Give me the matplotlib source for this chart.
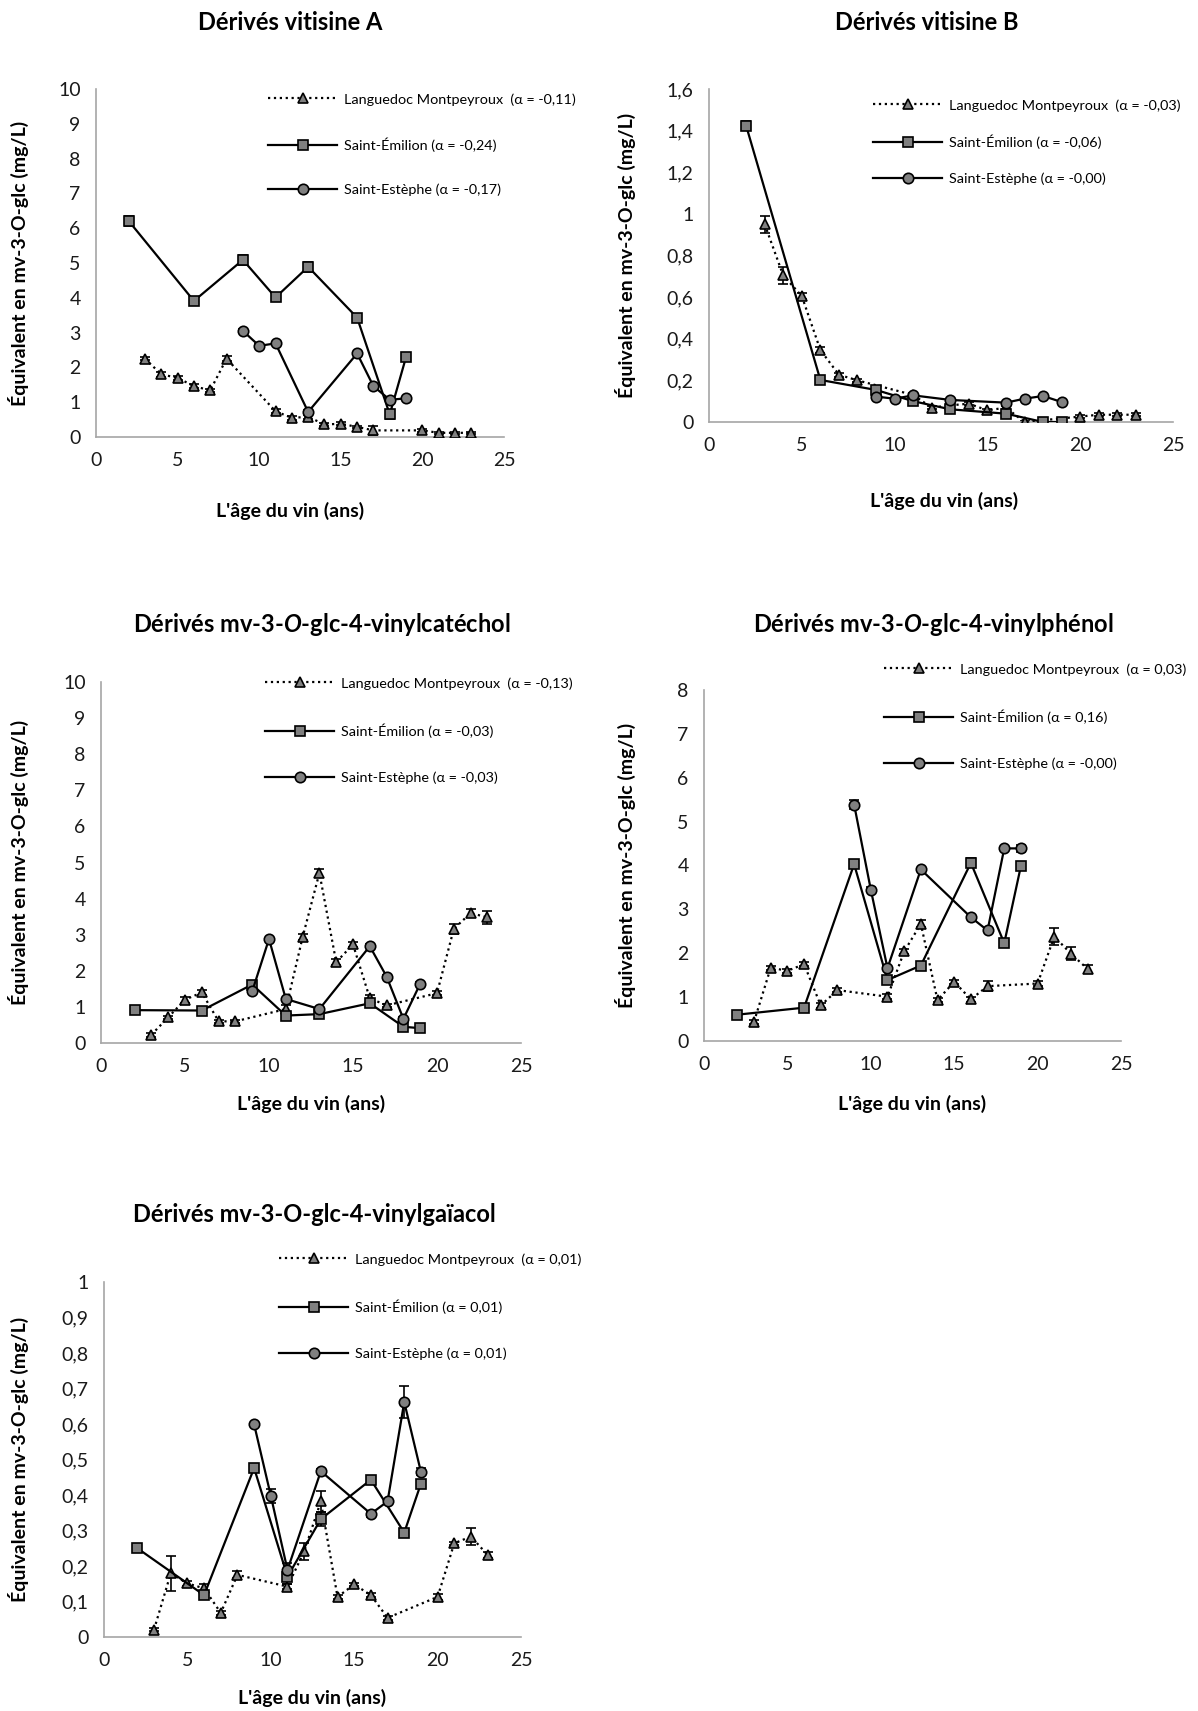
import numpy as np
import matplotlib
matplotlib.use("Agg")
import matplotlib.pyplot as plt

plt.rcParams['font.family'] = ['Lato', 'DejaVu Sans']
plt.rcParams['mathtext.fontset'] = 'custom'
plt.rcParams['mathtext.rm'] = 'Lato:bold'
plt.rcParams['mathtext.it'] = 'Lato:bold:italic'

W, H = 1198, 1711

# x values (wine age, years)
lang_x = [3, 4, 5, 6, 7, 8, 11, 12, 13, 14, 15, 16, 17, 20, 21, 22, 23]
emil_x = [2, 6, 9, 11, 13, 16, 18, 19]
este_x = [9, 10, 11, 13, 16, 17, 18, 19]

# Dérivés vitisine A
a_lang = [2.25, 1.80, 1.70, 1.46, 1.34, 2.25, 0.74, 0.55, 0.58, 0.36, 0.38, 0.29, 0.19, 0.19, 0.12, 0.12, 0.12]
a_lang_err = [0.05, 0.08, 0.05, 0.05, 0.05, 0.08, 0.06, 0.05, 0.05, 0.05, 0.04, 0.04, 0.12, 0.04, 0.03, 0.03, 0.03]
a_emil = [6.21, 3.91, 5.09, 4.01, 4.89, 3.43, 0.65, 2.30]
a_emil_err = [0.15, 0.08, 0.15, 0.10, 0.15, 0.10, 0.12, 0.08]
a_este = [3.05, 2.62, 2.69, 0.72, 2.40, 1.46, 1.07, 1.11]
a_este_err = [0.05, 0.05, 0.05, 0.05, 0.05, 0.05, 0.05, 0.05]

# Dérivés vitisine B
b_lang = [0.95, 0.704, 0.605, 0.346, 0.227, 0.20, 0.13, 0.069, 0.08, 0.088, 0.056, 0.069, 0.0, 0.026, 0.035, 0.035, 0.035]
b_lang_err = [0.04, 0.04, 0.015, 0.015, 0.01, 0.008, 0.008, 0.008, 0.008, 0.008, 0.006, 0.006, 0.006, 0.006, 0.006, 0.006, 0.006]
b_emil = [1.424, 0.202, 0.154, 0.10, 0.061, 0.04, 0.0, 0.0]
b_emil_err = [0.02, 0.008, 0.008, 0.006, 0.006, 0.006, 0.004, 0.004]
b_este = [0.122, 0.112, 0.128, 0.106, 0.093, 0.112, 0.125, 0.096]
b_este_err = [0.005, 0.005, 0.005, 0.005, 0.005, 0.005, 0.005, 0.005]

# Dérivés mv-3-O-glc-4-vinylcatéchol
c_lang = [0.23, 0.71, 1.20, 1.40, 0.60, 0.60, 0.94, 2.93, 4.71, 2.24, 2.73, 1.24, 1.04, 1.38, 3.16, 3.60, 3.48]
c_lang_err = [0.05, 0.05, 0.08, 0.06, 0.04, 0.04, 0.10, 0.08, 0.12, 0.08, 0.08, 0.10, 0.05, 0.06, 0.15, 0.12, 0.17]
c_emil = [0.91, 0.90, 1.62, 0.76, 0.80, 1.10, 0.45, 0.41]
c_emil_err = [0.04, 0.04, 0.06, 0.04, 0.04, 0.06, 0.04, 0.04]
c_este = [1.43, 2.88, 1.22, 0.94, 2.68, 1.84, 0.67, 1.64]
c_este_err = [0.05, 0.04, 0.04, 0.04, 0.06, 0.04, 0.04, 0.04]

# Dérivés mv-3-O-glc-4-vinylphénol
d_lang = [0.44, 1.67, 1.60, 1.75, 0.81, 1.16, 1.01, 2.04, 2.67, 0.93, 1.35, 0.95, 1.25, 1.31, 2.38, 1.99, 1.64]
d_lang_err = [0.05, 0.05, 0.05, 0.05, 0.05, 0.05, 0.05, 0.05, 0.08, 0.05, 0.05, 0.05, 0.12, 0.05, 0.20, 0.15, 0.10]
d_emil = [0.60, 0.76, 4.03, 1.39, 1.72, 4.06, 2.23, 3.99]
d_emil_err = [0.03, 0.03, 0.05, 0.05, 0.05, 0.10, 0.05, 0.08]
d_este = [5.39, 3.45, 1.66, 3.91, 2.82, 2.52, 4.39, 4.39]
d_este_err = [0.10, 0.05, 0.05, 0.04, 0.04, 0.04, 0.04, 0.08]

# Dérivés mv-3-O-glc-4-vinylgaïacol
e_lang = [0.021, 0.179, 0.151, 0.137, 0.068, 0.175, 0.142, 0.241, 0.382, 0.113, 0.148, 0.118, 0.054, 0.113, 0.264, 0.283, 0.231]
e_lang_err = [0.005, 0.05, 0.008, 0.012, 0.006, 0.01, 0.008, 0.025, 0.03, 0.005, 0.005, 0.005, 0.005, 0.008, 0.005, 0.025, 0.008]
e_emil = [0.25, 0.118, 0.476, 0.17, 0.332, 0.443, 0.294, 0.432]
e_emil_err = [0.005, 0.005, 0.008, 0.02, 0.02, 0.008, 0.005, 0.01]
e_este = [0.599, 0.398, 0.189, 0.467, 0.347, 0.382, 0.662, 0.465]
e_este_err = [0.005, 0.02, 0.02, 0.005, 0.008, 0.008, 0.045, 0.01]

titles = ["Dérivés vitisine A", "Dérivés vitisine B",
          "Dérivés mv-3-$\\mathit{O}$-glc-4-vinylcatéchol",
          "Dérivés mv-3-$\\mathit{O}$-glc-4-vinylphénol",
          "Dérivés mv-3-O-glc-4-vinylgaïacol"]
alphas = [("-0,11", "-0,24", "-0,17"), ("-0,03", "-0,06", "-0,00"),
          ("-0,13", "-0,03", "-0,03"), ("0,03", "0,16", "-0,00"),
          ("0,01", "0,01", "0,01")]
ylims = [(10, 1), (1.6, 0.2), (10, 1), (8, 1), (1, 0.1)]

# layout in pixels: axes (left, top, right, bottom), legend (x, y, spacing), title (x, y)
axes_px = [(96, 89, 504, 437), (709, 89, 1173, 422), (101, 682, 521, 1043),
           (704, 690, 1121, 1041), (104, 1282, 521, 1637)]
legend_px = [(268, 93, 2.2), (873, 99, 1.62), (265, 677, 2.35), (884, 663, 2.35), (279, 1253, 2.32)]
title_px = [(290, 23), (927, 23), (322, 624), (933, 624), (314, 1214)]
xlabel_px = [(290, 511), (944, 501), (311, 1104), (912, 1104), (312, 1698)]
ylabel_x = [29, 636, 29, 636, 29]

panels = [
    (a_lang, a_lang_err, a_emil, a_emil_err, a_este, a_este_err),
    (b_lang, b_lang_err, b_emil, b_emil_err, b_este, b_este_err),
    (c_lang, c_lang_err, c_emil, c_emil_err, c_este, c_este_err),
    (d_lang, d_lang_err, d_emil, d_emil_err, d_este, d_este_err),
    (e_lang, e_lang_err, e_emil, e_emil_err, e_este, e_este_err),
]

fig = plt.figure(figsize=(W / 100, H / 100), dpi=100)

def fmt_fr(v, pos):
    s = ("%.1f" % v).rstrip('0').rstrip('.')
    return s.replace('.', ',')

for i, (lang, lang_err, emil, emil_err, este, este_err) in enumerate(panels):
    l, t, r, b = axes_px[i]
    ax = fig.add_axes([l / W, 1 - b / H, (r - l) / W, (b - t) / H])

    mk = dict(markerfacecolor='#808080', markeredgecolor='black', markeredgewidth=1.2)
    ax.errorbar(lang_x, lang, yerr=lang_err, fmt='none', ecolor='black', elinewidth=1.2, capsize=3.5, capthick=1.2, zorder=2)
    ax.errorbar(emil_x, emil, yerr=emil_err, fmt='none', ecolor='black', elinewidth=1.2, capsize=3.5, capthick=1.2, zorder=2)
    ax.errorbar(este_x, este, yerr=este_err, fmt='none', ecolor='black', elinewidth=1.2, capsize=3.5, capthick=1.2, zorder=2)
    h1, = ax.plot(lang_x, lang, linestyle=':', color='black', lw=1.6, marker='^', markersize=7, zorder=3, **mk)
    h2, = ax.plot(emil_x, emil, linestyle='-', color='black', lw=1.6, marker='s', markersize=7, zorder=4, **mk)
    h3, = ax.plot(este_x, este, linestyle='-', color='black', lw=1.6, marker='o', markersize=7.5, zorder=5, **mk)

    ymax, ystep = ylims[i]
    ax.set_xlim(0, 25)
    ax.set_ylim(0, ymax)
    ax.set_xticks(np.arange(0, 26, 5))
    ax.set_yticks(np.arange(0, ymax + ystep / 2, ystep))
    ax.yaxis.set_major_formatter(matplotlib.ticker.FuncFormatter(fmt_fr))
    for s in ['top', 'right']:
        ax.spines[s].set_visible(False)
    for s in ['left', 'bottom']:
        ax.spines[s].set_color('#a6a6a6')
        ax.spines[s].set_linewidth(1.2)
    ax.tick_params(length=0, labelsize=14, colors='#1a1a1a')
    ax.tick_params(axis='x', pad=11)
    ax.tick_params(axis='y', pad=11)

    ax.set_ylabel("Équivalent en mv-3-O-glc (mg/L)", fontsize=14, fontweight='bold')
    ax.yaxis.set_label_coords(ylabel_x[i] / W, 1 - (t + b) / 2 / H, transform=fig.transFigure)
    xl, yl = xlabel_px[i]
    ax.set_xlabel("L'âge du vin (ans)", fontsize=14, fontweight='bold')
    ax.xaxis.set_label_coords(xl / W, 1 - yl / H, transform=fig.transFigure)
    ax.xaxis.label.set_va('center')

    tx, ty = title_px[i]
    fig.text(tx / W, 1 - ty / H, titles[i], fontsize=17, fontweight='bold', ha='center', va='center')

    a1, a2, a3 = alphas[i]
    labels = ["Languedoc Montpeyroux  (α = %s)" % a1,
              "Saint-Émilion (α = %s)" % a2,
              "Saint-Estèphe (α = %s)" % a3]
    lx, ly, sp = legend_px[i]
    ax.legend([h1, h2, h3], labels, loc='upper left',
              bbox_to_anchor=(lx / W, 1 - ly / H), bbox_transform=fig.transFigure,
              frameon=False, fontsize=10.4, handlelength=4.8, handletextpad=0.45,
              labelspacing=sp, borderpad=0, borderaxespad=0, numpoints=1)

fig.savefig("out.png", dpi=100)
